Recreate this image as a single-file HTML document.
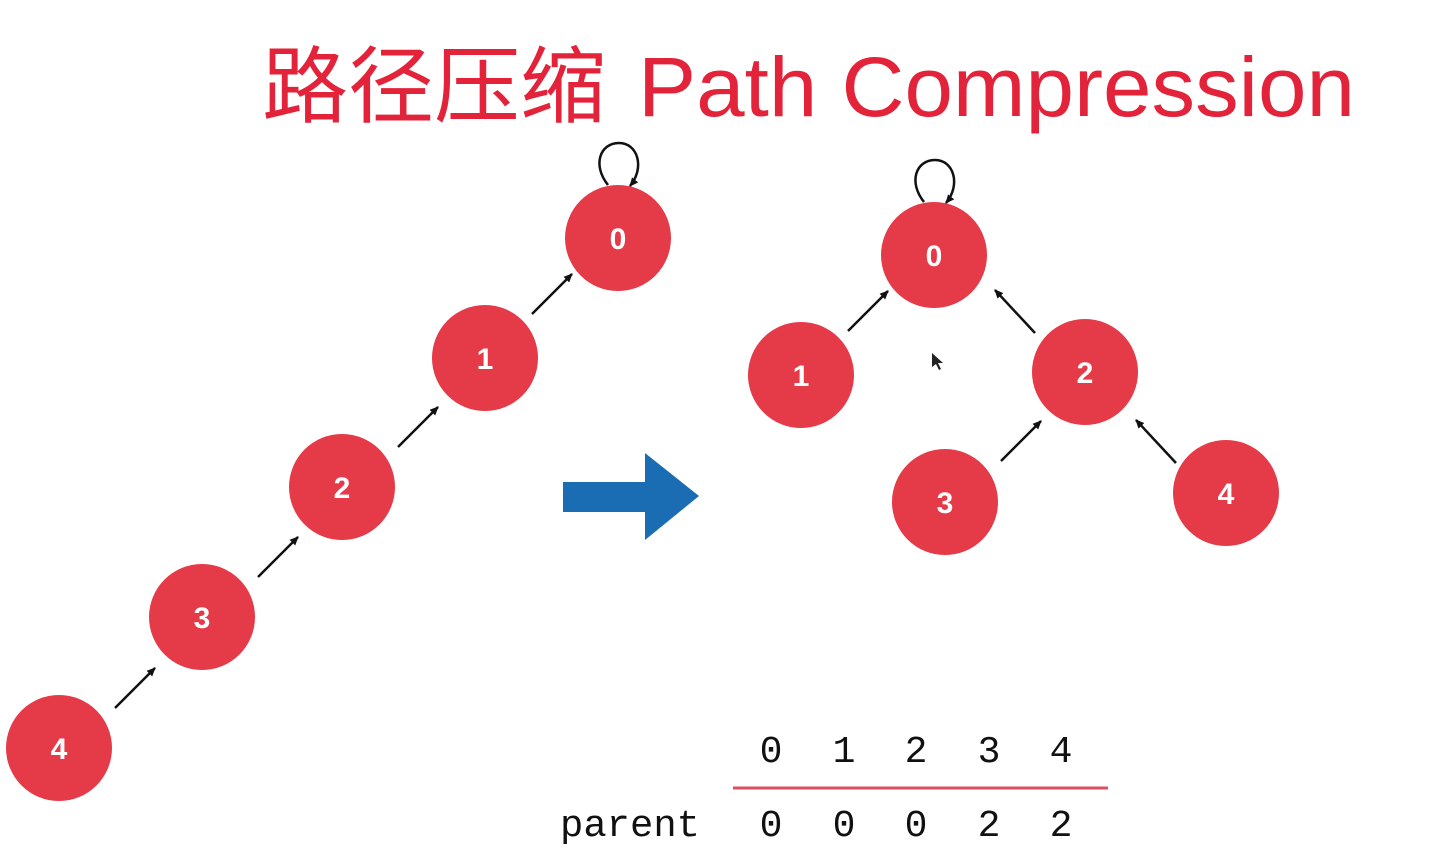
<!DOCTYPE html>
<html><head><meta charset="utf-8"><style>
html,body{margin:0;padding:0;background:#fff;}
svg{display:block;}
</style></head><body>
<svg width="1436" height="867" viewBox="0 0 1436 867" xmlns="http://www.w3.org/2000/svg">
<defs>
<marker id="ah" markerWidth="10" markerHeight="10" refX="8" refY="5" orient="auto" markerUnits="userSpaceOnUse">
<path d="M0,1 L9,5 L0,9 z" fill="#111"/>
</marker>
</defs>
<text x="262" y="116" font-family="'Noto Sans CJK SC', sans-serif" font-size="84" fill="#e2233a" textLength="344" lengthAdjust="spacingAndGlyphs">路径压缩</text>
<text x="638" y="116" font-family="'Liberation Sans', sans-serif" font-size="84" fill="#e2233a" textLength="717" lengthAdjust="spacingAndGlyphs">Path Compression</text>

<g fill="#e53a48">
<circle cx="618" cy="238" r="53"/><circle cx="485" cy="358" r="53"/><circle cx="342" cy="487" r="53"/><circle cx="202" cy="617" r="53"/><circle cx="59" cy="748" r="53"/>
<circle cx="934" cy="255" r="53"/><circle cx="801" cy="375" r="53"/><circle cx="1085" cy="372" r="53"/><circle cx="945" cy="502" r="53"/><circle cx="1226" cy="493" r="53"/>
</g>
<g font-family="'Liberation Sans', sans-serif" font-weight="bold" font-size="30" fill="#fff" text-anchor="middle">
<text x="618" y="249">0</text><text x="485" y="369">1</text><text x="342" y="498">2</text><text x="202" y="628">3</text><text x="59" y="759">4</text>
<text x="934" y="266">0</text><text x="801" y="386">1</text><text x="1085" y="383">2</text><text x="945" y="513">3</text><text x="1226" y="504">4</text>
</g>
<g stroke="#111" stroke-width="2.5" fill="none" marker-end="url(#ah)">
<line x1="115" y1="708" x2="155" y2="668"/><line x1="258" y1="577" x2="298" y2="537"/><line x1="398" y1="447" x2="438" y2="407"/><line x1="532" y1="314" x2="572" y2="274"/>
<line x1="848" y1="331" x2="888" y2="291"/><line x1="1035" y1="333" x2="995" y2="290"/><line x1="1001" y1="461" x2="1041" y2="421"/><line x1="1176" y1="463" x2="1136" y2="420"/>
<path d="M608,185 C592,165 600,143 619,143 C638,143 645,168 630,186"/>
<path d="M924,202 C908,182 916,160 935,160 C954,160 961,185 946,203"/>
</g>
<path d="M563,482 L645,482 L645,453 L699,496 L645,540 L645,512 L563,512 z" fill="#1a6db3"/>
<path d="M932,353 l0,14 l4,-3 l3,6 l2,-1 l-3,-6 l5,0 z" fill="#222"/>
<line x1="733" y1="788" x2="1108" y2="788" stroke="#d9505e" stroke-width="3"/>
<g font-family="'Liberation Mono', 'DejaVu Sans Mono', monospace" font-size="38" fill="#111" text-anchor="middle">
<text x="771" y="762">0</text><text x="844" y="762">1</text><text x="916" y="762">2</text><text x="989" y="762">3</text><text x="1061" y="762">4</text>
<text x="771" y="836">0</text><text x="844" y="836">0</text><text x="916" y="836">0</text><text x="989" y="836">2</text><text x="1061" y="836">2</text>
<text x="630" y="836" textLength="140" lengthAdjust="spacingAndGlyphs">parent</text>
</g>
</svg>
</body></html>
